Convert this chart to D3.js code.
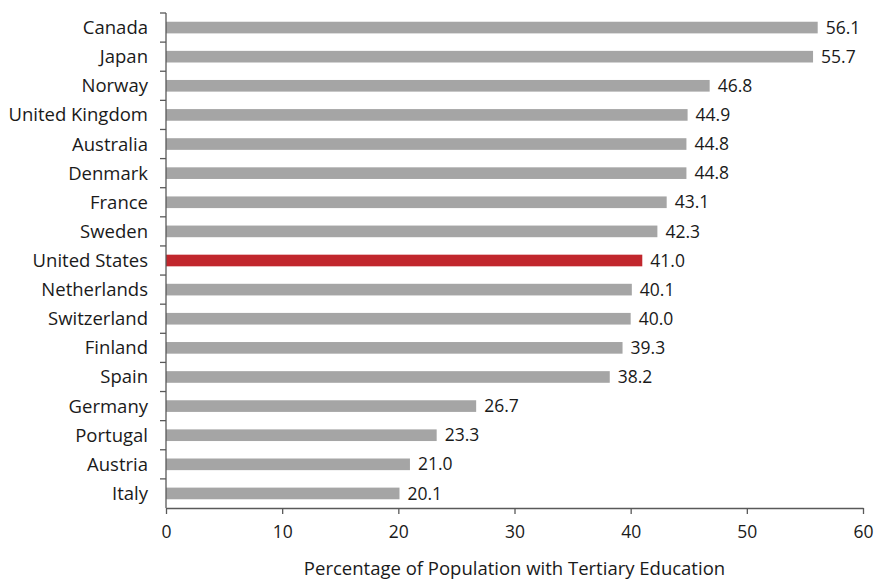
<!DOCTYPE html>
<html lang="en">
<head>
  <meta charset="UTF-8">
  <title>Tertiary Education</title>
  <script src="https://d3js.org/d3.v7.min.js"></script>
  <style>
    body { margin: 0; background: #fff; font-family: "Open Sans", sans-serif; }
    text { fill: #1a1a1a; }
  </style>
</head>
<body>
  <svg width="876" height="582"></svg>
  <script>
    const countries = ["Canada", "Japan", "Norway", "United Kingdom", "Australia", "Denmark", "France",
      "Sweden", "United States", "Netherlands", "Switzerland", "Finland", "Spain", "Germany",
      "Portugal", "Austria", "Italy"];
    const values = [56.1, 55.7, 46.8, 44.9, 44.8, 44.8, 43.1, 42.3, 41.0, 40.1, 40.0, 39.3, 38.2, 26.7, 23.3, 21.0, 20.1];
    const highlight = "United States";
    const xTicks = [0, 10, 20, 30, 40, 50, 60];

    const data = countries.map((c, i) => ({ country: c, value: values[i] }));

    const plot = { left: 166, right: 863, top: 13, bottom: 508 };
    const svg = d3.select("svg");

    const x = d3.scaleLinear().domain([0, 60]).range([plot.left, plot.right]);
    const y = d3.scaleBand().domain(countries).range([plot.top, plot.bottom]).paddingInner(0.6).paddingOuter(0.3);
    const yTicks = d3.scaleBand().domain(countries).range([plot.top, plot.bottom]);

    // bars
    svg.selectAll(".bar")
      .data(data)
      .join("rect")
      .attr("x", x(0))
      .attr("y", d => y(d.country))
      .attr("width", d => x(d.value) - x(0))
      .attr("height", y.bandwidth())
      .attr("fill", d => d.country === highlight ? "#c1272d" : "#a5a5a5");

    // value labels
    svg.selectAll(".val")
      .data(data)
      .join("text")
      .attr("x", d => x(d.value) + 8)
      .attr("y", d => y(d.country) + y.bandwidth() / 2)
      .attr("dy", "0.35em")
      .attr("font-size", 17.5)
      .text(d => d.value.toFixed(1));

    // y axis
    const yAxis = svg.append("g");
    yAxis.append("line")
      .attr("x1", plot.left).attr("x2", plot.left).attr("y1", plot.top).attr("y2", plot.bottom)
      .attr("stroke", "#595959").attr("stroke-width", 1.3);
    yAxis.selectAll(".tk")
      .data(countries)
      .join("line")
      .attr("x1", plot.left - 6).attr("x2", plot.left)
      .attr("y1", d => yTicks(d)).attr("y2", d => yTicks(d))
      .attr("stroke", "#595959").attr("stroke-width", 1.3);
    yAxis.selectAll(".lbl")
      .data(countries)
      .join("text")
      .attr("x", plot.left - 18)
      .attr("y", d => yTicks(d) + yTicks.bandwidth() / 2)
      .attr("dy", "0.35em")
      .attr("text-anchor", "end")
      .attr("font-size", 18.5)
      .text(d => d);

    // x axis
    const xAxis = svg.append("g").attr("transform", `translate(0,${plot.bottom})`)
      .call(d3.axisBottom(x).tickValues(xTicks).tickSize(6).tickSizeOuter(0).tickPadding(12));
    xAxis.select(".domain").attr("stroke", "#595959").attr("stroke-width", 1.3);
    xAxis.selectAll(".tick line").attr("stroke", "#595959").attr("stroke-width", 1.3);
    xAxis.selectAll(".tick text").attr("font-size", 17.5).attr("font-family", "Open Sans").attr("fill", "#1a1a1a");

    svg.append("text")
      .attr("x", (plot.left + plot.right) / 2)
      .attr("y", 575)
      .attr("text-anchor", "middle")
      .attr("font-size", 18.5)
      .text("Percentage of Population with Tertiary Education");
  </script>
</body>
</html>
